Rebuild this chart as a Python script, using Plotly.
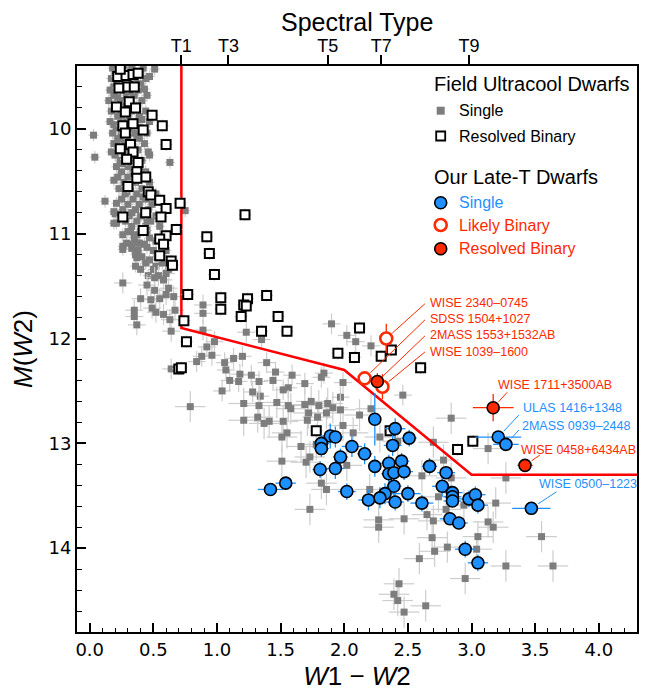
import math
import plotly.graph_objects as go

# field ultracool dwarfs, single -- bright sequence (small error bars)
fs1_x = [0.18, 0.27, 0.33, 0.42, 0.51, 0.20, 0.30, 0.40, 0.17, 0.25, 0.36, 0.44, 0.21, 0.32, 0.40,
         0.16, 0.26, 0.38, 0.19, 0.29, 0.35, 0.45, 0.15, 0.24, 0.41, 0.20, 0.28, 0.37, 0.17, 0.33,
         0.44, 0.22, 0.30, 0.39, 0.16, 0.26, 0.36, 0.47, 0.21, 0.31, 0.40, 0.18, 0.25, 0.35, 0.45,
         0.22, 0.30, 0.39, 0.19, 0.27, 0.43, 0.22, 0.31, 0.38, 0.20, 0.28, 0.35, 0.47, 0.24, 0.33,
         0.41, 0.21, 0.30, 0.39, 0.25, 0.34, 0.44, 0.22, 0.30, 0.40, 0.27, 0.36, 0.47, 0.23, 0.32,
         0.41, 0.28, 0.37, 0.52, 0.25, 0.34, 0.44, 0.30, 0.39, 0.49, 0.26, 0.36, 0.46, 0.31, 0.40,
         0.52, 0.28, 0.37, 0.48, 0.33, 0.44, 0.55, 0.30, 0.40, 0.35, 0.47, 0.58, 0.33, 0.43, 0.38,
         0.50, 0.60, 0.41, 0.53, 0.44, 0.57, 0.40, 0.50, 0.62, 0.46,
         0.03, 0.04, 0.63, 0.46, 0.12, 0.19, 0.19, 0.75, 0.45, 0.26, 0.38, 0.20, 0.21, 0.26, 0.32,
         0.29, 0.26, 0.33, 0.39, 0.37, 0.36,
         0.23, 0.36, 0.47, 0.28, 0.19, 0.34, 0.43, 0.22, 0.31, 0.25, 0.41, 0.19, 0.28, 0.37, 0.24,
         0.34, 0.17, 0.26, 0.36, 0.19, 0.29, 0.42, 0.21, 0.33, 0.45, 0.37, 0.52, 0.45, 0.36, 0.47,
         0.52, 0.58]
fs1_y = [9.42, 9.42, 9.42, 9.42, 9.43, 9.47, 9.47, 9.47, 9.52, 9.52, 9.52, 9.52, 9.57, 9.57, 9.57,
         9.63, 9.63, 9.63, 9.68, 9.68, 9.68, 9.68, 9.73, 9.73, 9.73, 9.78, 9.78, 9.78, 9.83, 9.83,
         9.83, 9.88, 9.88, 9.88, 9.93, 9.93, 9.93, 9.93, 9.99, 9.99, 9.99, 10.04, 10.04, 10.04, 10.04,
         10.09, 10.09, 10.09, 10.14, 10.14, 10.14, 10.20, 10.20, 10.20, 10.25, 10.25, 10.25, 10.25, 10.30, 10.30,
         10.30, 10.36, 10.36, 10.36, 10.41, 10.41, 10.41, 10.46, 10.46, 10.46, 10.51, 10.51, 10.51, 10.57, 10.57,
         10.57, 10.62, 10.62, 10.62, 10.67, 10.67, 10.67, 10.72, 10.72, 10.72, 10.77, 10.77, 10.77, 10.83, 10.83,
         10.83, 10.88, 10.88, 10.88, 10.93, 10.93, 10.93, 10.98, 10.98, 11.04, 11.04, 11.04, 11.10, 11.10, 11.16,
         11.16, 11.16, 11.22, 11.22, 11.28, 11.28, 11.34, 11.34, 11.34, 11.40,
         10.06, 10.27, 10.32, 10.22, 10.69, 10.79, 10.90, 10.78, 10.87, 11.12, 11.09, 10.81, 10.90, 11.01, 10.98,
         11.09, 11.15, 11.14, 11.09, 11.23, 11.31,
         9.45, 9.45, 9.50, 9.55, 9.60, 9.65, 9.62, 9.70, 9.76, 9.86, 9.91, 9.96, 10.01, 10.07, 10.11,
         10.17, 10.22, 10.33, 10.44, 10.49, 10.60, 10.65, 10.71, 10.80, 10.97, 11.01, 11.07, 11.13, 11.20, 11.25,
         11.31, 11.44]

# field single -- middle of the sequence
fs2_x = [0.26, 0.45, 0.51, 0.40, 0.48, 0.55, 0.60, 0.62, 0.51, 0.58, 0.60, 0.54, 0.35, 0.35, 0.37,
         0.49, 0.52, 0.58, 0.63, 0.64, 0.67, 0.66, 0.89, 0.89, 0.89, 0.92, 0.98, 0.88, 0.96, 0.84,
         1.06, 1.13, 1.20, 1.23, 1.27, 1.18, 1.10, 1.17, 1.04, 1.28, 1.34, 0.64, 1.35, 1.39, 1.07,
         1.46, 1.52, 1.56, 1.44, 1.33, 1.59, 1.69, 1.84, 1.90, 2.02, 2.09, 2.21, 1.99, 1.82, 1.97, 2.46]
fs2_y = [11.47, 11.49, 11.54, 11.62, 11.63, 11.62, 11.58, 11.52, 11.42, 11.44, 11.38, 11.40, 11.73, 11.79, 11.87,
         11.71, 11.75, 11.77, 11.82, 11.93, 11.73, 11.60, 11.68, 11.76, 11.92, 12.08, 12.03, 12.17, 12.16, 12.22,
         12.23, 12.19, 12.17, 11.94, 12.35, 12.34, 12.40, 12.41, 12.50, 12.51, 12.55, 12.29, 12.01, 12.23, 12.30,
         12.32, 12.49, 12.47, 12.40, 12.41, 12.35, 12.43, 12.33, 11.86, 11.97, 12.03, 12.07, 12.42, 12.37, 12.56, 12.54]

# field single -- faint end (large error bars)
fs3_x = [0.79, 1.21, 1.33, 1.47, 1.56, 1.58, 1.69, 1.74, 1.80, 1.87, 1.91, 1.97, 1.72, 1.79, 1.86,
         2.12, 2.21, 1.21, 1.32, 1.41, 1.37, 1.52, 1.51, 1.55, 1.71, 1.99, 2.07, 1.66, 1.78, 2.28,
         2.42, 1.51, 1.70, 1.73, 1.82, 1.86, 1.73, 2.02, 2.20, 2.27, 2.27, 2.47, 2.61, 2.70, 2.78,
         2.74, 2.65, 2.70, 2.84, 2.84, 2.80, 2.94, 3.13, 3.27, 3.19, 3.13, 3.17, 2.69, 2.81, 2.71,
         3.05, 3.04, 2.59, 2.95, 3.27, 2.43, 2.39, 2.42, 2.64, 2.47, 3.55, 3.64]
fs3_y = [12.65, 12.62, 12.64, 12.61, 12.64, 12.67, 12.63, 12.60, 12.64, 12.62, 12.66, 12.68, 12.71, 12.75, 12.71,
         12.73, 12.67, 12.78, 12.75, 12.79, 12.81, 12.79, 12.94, 12.90, 12.78, 12.83, 12.90, 13.03, 13.01, 12.94,
         12.98, 13.17, 13.18, 13.13, 13.38, 13.44, 13.63, 13.21, 13.44, 13.73, 13.80, 13.72, 13.31, 12.99, 13.16,
         13.51, 13.68, 13.74, 12.76, 13.33, 13.63, 13.59, 13.05, 13.33, 13.57, 13.75, 13.80, 13.90, 13.99, 14.03,
         13.89, 14.01, 14.10, 14.29, 14.17, 14.34, 14.44, 14.50, 14.55, 14.61, 13.89, 14.17]

# field ultracool dwarfs, resolved binaries
fb_x = [0.22, 0.285, 0.34, 0.38, 0.24, 0.23, 0.30, 0.35, 0.21, 0.31, 0.36, 0.28, 0.49, 0.57, 0.26,
        0.34, 0.42, 0.28, 0.60, 0.24, 0.32, 0.34, 0.29, 0.38, 0.37, 0.44, 0.37, 0.30, 0.46, 0.48,
        0.55, 0.71, 0.60, 0.56, 0.44, 0.26, 1.22, 0.42, 0.68, 0.60, 0.55, 0.92, 0.58, 0.94, 0.55,
        0.64, 0.65, 0.98, 0.77, 1.03, 1.03, 1.24, 1.21, 1.23, 1.39, 1.19, 0.74, 1.35, 0.76, 0.70,
        0.72, 1.48, 1.55, 2.12, 1.95, 2.08, 2.29, 2.37, 2.60, 1.78, 2.36, 2.89, 3.01]
fb_y = [9.50, 9.49, 9.48, 9.47, 9.43, 9.61, 9.60, 9.60, 9.79, 9.74, 9.80, 9.84, 9.87, 9.97, 9.97,
        9.95, 10.01, 10.04, 10.15, 10.19, 10.15, 10.22, 10.29, 10.32, 10.41, 10.46, 10.47, 10.55, 10.60, 10.63,
        10.68, 10.71, 10.76, 10.84, 10.80, 10.84, 10.82, 10.97, 10.96, 11.02, 11.05, 11.03, 11.10, 11.19, 11.21,
        11.26, 11.30, 11.39, 11.58, 11.61, 11.72, 11.62, 11.68, 11.69, 11.59, 11.79, 11.83, 11.93, 12.03, 12.29,
        12.28, 11.79, 11.93, 11.90, 12.14, 12.18, 12.17, 12.11, 12.28, 12.88, 12.88, 13.06, 12.98]

# our late-T dwarfs, single
bl_x = [2.24, 2.40, 2.51, 1.89, 1.93, 1.82, 1.82, 2.06, 2.38, 2.16, 1.97, 2.24, 2.35, 2.45, 1.81,
        1.93, 2.35, 2.39, 2.47, 2.67, 2.80, 1.54, 1.42, 2.02, 2.39, 2.32, 2.28, 2.19, 2.40, 2.50,
        2.61, 2.77, 2.85, 2.85, 2.85, 2.98, 3.03, 3.05, 2.83, 2.90, 2.95, 3.05, 3.21, 3.27, 3.47]
bl_y = [12.77, 12.86, 12.95, 12.93, 12.94, 13.00, 13.05, 13.03, 13.02, 13.10, 13.13, 13.22, 13.19, 13.17, 13.25,
        13.24, 13.29, 13.28, 13.27, 13.22, 13.28, 13.38, 13.44, 13.46, 13.41, 13.48, 13.52, 13.54, 13.56, 13.48,
        13.57, 13.41, 13.47, 13.51, 13.55, 13.53, 13.49, 13.59, 13.72, 13.76, 14.01, 14.14, 12.94, 13.01, 13.62]
bl_xerr = [0.05, 0.08, 0.06, 0.07, 0.06, 0.06, 0.06, 0.08, 0.07, 0.06, 0.06, 0.05, 0.07, 0.06, 0.06,
           0.07, 0.06, 0.08, 0.07, 0.06, 0.07, 0.08, 0.10, 0.07, 0.06, 0.08, 0.07, 0.08, 0.07, 0.10,
           0.09, 0.08, 0.08, 0.07, 0.07, 0.09, 0.08, 0.08, 0.08, 0.07, 0.08, 0.08, 0.18, 0.10, 0.15]
bl_yerr = [0.25, 0.10, 0.08, 0.12, 0.10, 0.08, 0.08, 0.10, 0.10, 0.10, 0.08, 0.10, 0.08, 0.08, 0.08,
           0.10, 0.10, 0.10, 0.08, 0.08, 0.06, 0.06, 0.06, 0.08, 0.10, 0.10, 0.10, 0.10, 0.08, 0.08,
           0.08, 0.10, 0.06, 0.06, 0.06, 0.08, 0.08, 0.08, 0.06, 0.06, 0.08, 0.08, 0.06, 0.06, 0.06]

# our late-T dwarfs, likely binaries
lb_x = [2.33, 2.16, 2.30]
lb_y = [12.00, 12.38, 12.46]
lb_xerr = [0.05, 0.04, 0.04]
lb_yerr = [0.14, 0.05, 0.12]

# our late-T dwarfs, resolved binaries
rb_x = [2.26, 3.17, 3.42]
rb_y = [12.41, 12.66, 13.21]
rb_xerr = [0.04, 0.16, 0.06]
rb_yerr = [0.08, 0.13, 0.04]

# T / Y selection boundary
cut_x = [0.72, 0.72, 2.0, 3.0, 4.3]
cut_y = [9.4, 11.9, 12.3, 13.3, 13.3]

# spectral type scale on top
spt_pos = [0.72, 1.09, 1.87, 2.29, 2.98]
spt_lab = ["T1", "T3", "T5", "T7", "T9"]

GREY = "#7d7d7d"
GREY_ERR = "#cdcdcd"
BLUE = "#1e90ff"
RED = "#ff2a00"
TXT = "Liberation Sans, Arial, sans-serif"

# the page puts the figure 8 px in from the top left corner
OFF = 8

fig = go.Figure()

for xs, ys, ex, ey in [(fs1_x, fs1_y, 0.04, 0.06), (fs2_x, fs2_y, 0.07, 0.10), (fs3_x, fs3_y, 0.12, 0.15)]:
    fig.add_scatter(x=xs, y=ys, mode="markers",
                    marker=dict(symbol="square", size=7, color=GREY),
                    error_x=dict(type="constant", value=ex, color=GREY_ERR, thickness=1.2, width=0),
                    error_y=dict(type="constant", value=ey, color=GREY_ERR, thickness=1.2, width=0))

fig.add_scatter(x=cut_x, y=cut_y, mode="lines", line=dict(color="#ff0000", width=2.5))

fig.add_scatter(x=fb_x, y=fb_y, mode="markers",
                marker=dict(symbol="square", size=9, color="white", line=dict(color="black", width=2)),
                error_x=dict(type="constant", value=0.05, color=GREY_ERR, thickness=1.2, width=0),
                error_y=dict(type="constant", value=0.06, color=GREY_ERR, thickness=1.2, width=0))

fig.add_scatter(x=bl_x, y=bl_y, mode="markers",
                marker=dict(symbol="circle", size=12, color=BLUE, line=dict(color="black", width=1.6)),
                error_x=dict(type="data", array=bl_xerr, color=BLUE, thickness=1.3, width=0),
                error_y=dict(type="data", array=bl_yerr, color=BLUE, thickness=1.3, width=0))

fig.add_scatter(x=lb_x, y=lb_y, mode="markers",
                marker=dict(symbol="circle", size=12, color="white", line=dict(color=RED, width=2.6)),
                error_x=dict(type="data", array=lb_xerr, color=RED, thickness=1.3, width=0),
                error_y=dict(type="data", array=lb_yerr, color=RED, thickness=1.3, width=0))

fig.add_scatter(x=rb_x, y=rb_y, mode="markers",
                marker=dict(symbol="circle", size=12, color=RED, line=dict(color="black", width=1.6)),
                error_x=dict(type="data", array=rb_xerr, color=RED, thickness=1.3, width=0),
                error_y=dict(type="data", array=rb_yerr, color=RED, thickness=1.3, width=0))

# invisible trace so that the spectral-type axis gets drawn
fig.add_scatter(x=spt_pos, y=[cut_y[-1]] * len(spt_pos), xaxis="x2", yaxis="y", mode="markers",
                marker=dict(opacity=0), hoverinfo="skip")

# object labels: text, colour, point (group, index), text anchor, start of leader line
groups = {"lb": (lb_x, lb_y), "rb": (rb_x, rb_y), "bl": (bl_x, bl_y)}
labels = [
    ("WISE 2340–0745", RED, "lb", 0, 2.655, 11.661, 2.634, 11.668),
    ("SDSS 1504+1027", RED, "lb", 1, 2.655, 11.814, 2.634, 11.822),
    ("2MASS 1553+1532AB", RED, "rb", 0, 2.655, 11.967, 2.634, 11.975),
    ("WISE 1039–1600", RED, "lb", 2, 2.655, 12.126, 2.634, 12.128),
    ("WISE 1711+3500AB", RED, "rb", 1, 3.189, 12.444, 3.280, 12.513),
    ("ULAS 1416+1348", BLUE, "bl", 42, 3.388, 12.666, 3.372, 12.730),
    ("2MASS 0939–2448", BLUE, "bl", 43, 3.380, 12.832, 3.372, 12.873),
    ("WISE 0458+6434AB", RED, "rb", 2, 3.372, 13.064, 3.537, 13.112),
    ("WISE 0500–1223", BLUE, "bl", 44, 3.514, 13.388, 3.668, 13.462),
]
kx = 560 / 4.4
ky = 566 / 5.4
for text, col, g, i, tx, ty, sx, sy in labels:
    px, py = groups[g][0][i], groups[g][1][i]
    dx, dy = (sx - px) * kx, (sy - py) * ky
    d = math.hypot(dx, dy)
    ex, ey = px + dx * 8 / d / kx, py + dy * 8 / d / ky
    fig.add_shape(type="line", x0=sx, y0=sy, x1=ex, y1=ey, xref="x", yref="y",
                  line=dict(color=col, width=1))
    fig.add_annotation(x=tx, y=ty, xref="x", yref="y", text=text, showarrow=False,
                       xanchor="left", yanchor="middle", font=dict(family=TXT, size=12.5, color=col))

# hand-made legend, positions given in screen pixels of the plot box (77..637, 66..632)
def paper(px, py):
    return (px - 77) / 560, (632 - py) / 566

leg_titles = [("Field Ultracool Dwarfs", 84), ("Our Late-T Dwarfs", 177)]
for t, py in leg_titles:
    lx, ly = paper(432, py)
    fig.add_annotation(x=lx, y=ly, xref="paper", yref="paper", text=t, showarrow=False,
                       xanchor="left", yanchor="middle", font=dict(family=TXT, size=20, color="black"))

leg_items = [
    ("Single", "black", "rect", GREY, GREY, 0, 8, 110.7),
    ("Resolved Binary", "black", "rect", "white", "black", 1.8, 9, 136),
    ("Single", BLUE, "circle", BLUE, "black", 1.6, 12, 202.7),
    ("Likely Binary", RED, "circle", "white", RED, 2.6, 12, 225),
    ("Resolved Binary", RED, "circle", RED, "black", 1.6, 12, 248.7),
]
for t, tcol, shp, fill, edge, lw, sz, py in leg_items:
    mx, my = paper(440.7, py)
    fig.add_shape(type=shp, xref="paper", yref="paper", xsizemode="pixel", ysizemode="pixel",
                  xanchor=mx, yanchor=my, x0=-sz / 2, x1=sz / 2, y0=-sz / 2, y1=sz / 2,
                  fillcolor=fill, line=dict(color=edge, width=lw))
    tx, ty = paper(457, py)
    fig.add_annotation(x=tx, y=ty, xref="paper", yref="paper", text=t, showarrow=False,
                       xanchor="left", yanchor="middle", font=dict(family=TXT, size=16, color=tcol))

# title of the top axis
sx_t, sy_t = paper(357, 22)
fig.add_annotation(x=sx_t, y=sy_t, xref="paper", yref="paper", text="Spectral Type", showarrow=False,
                   xanchor="center", yanchor="middle", font=dict(family=TXT, size=25, color="black"))

axis_common = dict(showline=True, linewidth=2, linecolor="black", mirror=True, showgrid=False,
                   zeroline=False, ticks="inside", ticklen=9, tickwidth=1.5, tickcolor="black",
                   automargin=False,
                   tickfont=dict(family="DejaVu Sans", size=18, color="black"))

fig.update_layout(
    width=651 - OFF, height=692 - OFF,
    margin=dict(l=77 - OFF, r=14, t=66 - OFF, b=60),
    plot_bgcolor="white", paper_bgcolor="white",
    showlegend=False,
    xaxis=dict(range=[-0.1, 4.3], tick0=0, dtick=0.5, tickformat=".1f",
               minor=dict(dtick=0.1, ticks="inside", ticklen=4.5, tickwidth=1.2, tickcolor="black"),
               title=dict(text="<i>W</i>1 − <i>W</i>2", font=dict(family=TXT, size=26, color="black"),
                          standoff=8),
               **axis_common),
    yaxis=dict(range=[14.8, 9.4], dtick=1,
               minor=dict(dtick=0.2, ticks="inside", ticklen=4.5, tickwidth=1.2, tickcolor="black"),
               title=dict(text="<i>M</i>(<i>W</i>2)", font=dict(family=TXT, size=26, color="black"),
                          standoff=8),
               **axis_common),
    xaxis2=dict(overlaying="x", side="top", range=[-0.1, 4.3], tickmode="array",
                tickvals=spt_pos, ticktext=spt_lab, ticks="outside", ticklen=10, tickwidth=2,
                tickcolor="black", showgrid=False, zeroline=False, showline=False,
                ticklabelstandoff=-4, automargin=False,
                tickfont=dict(family=TXT, size=18, color="black")),
)

fig.write_html("out.html")
